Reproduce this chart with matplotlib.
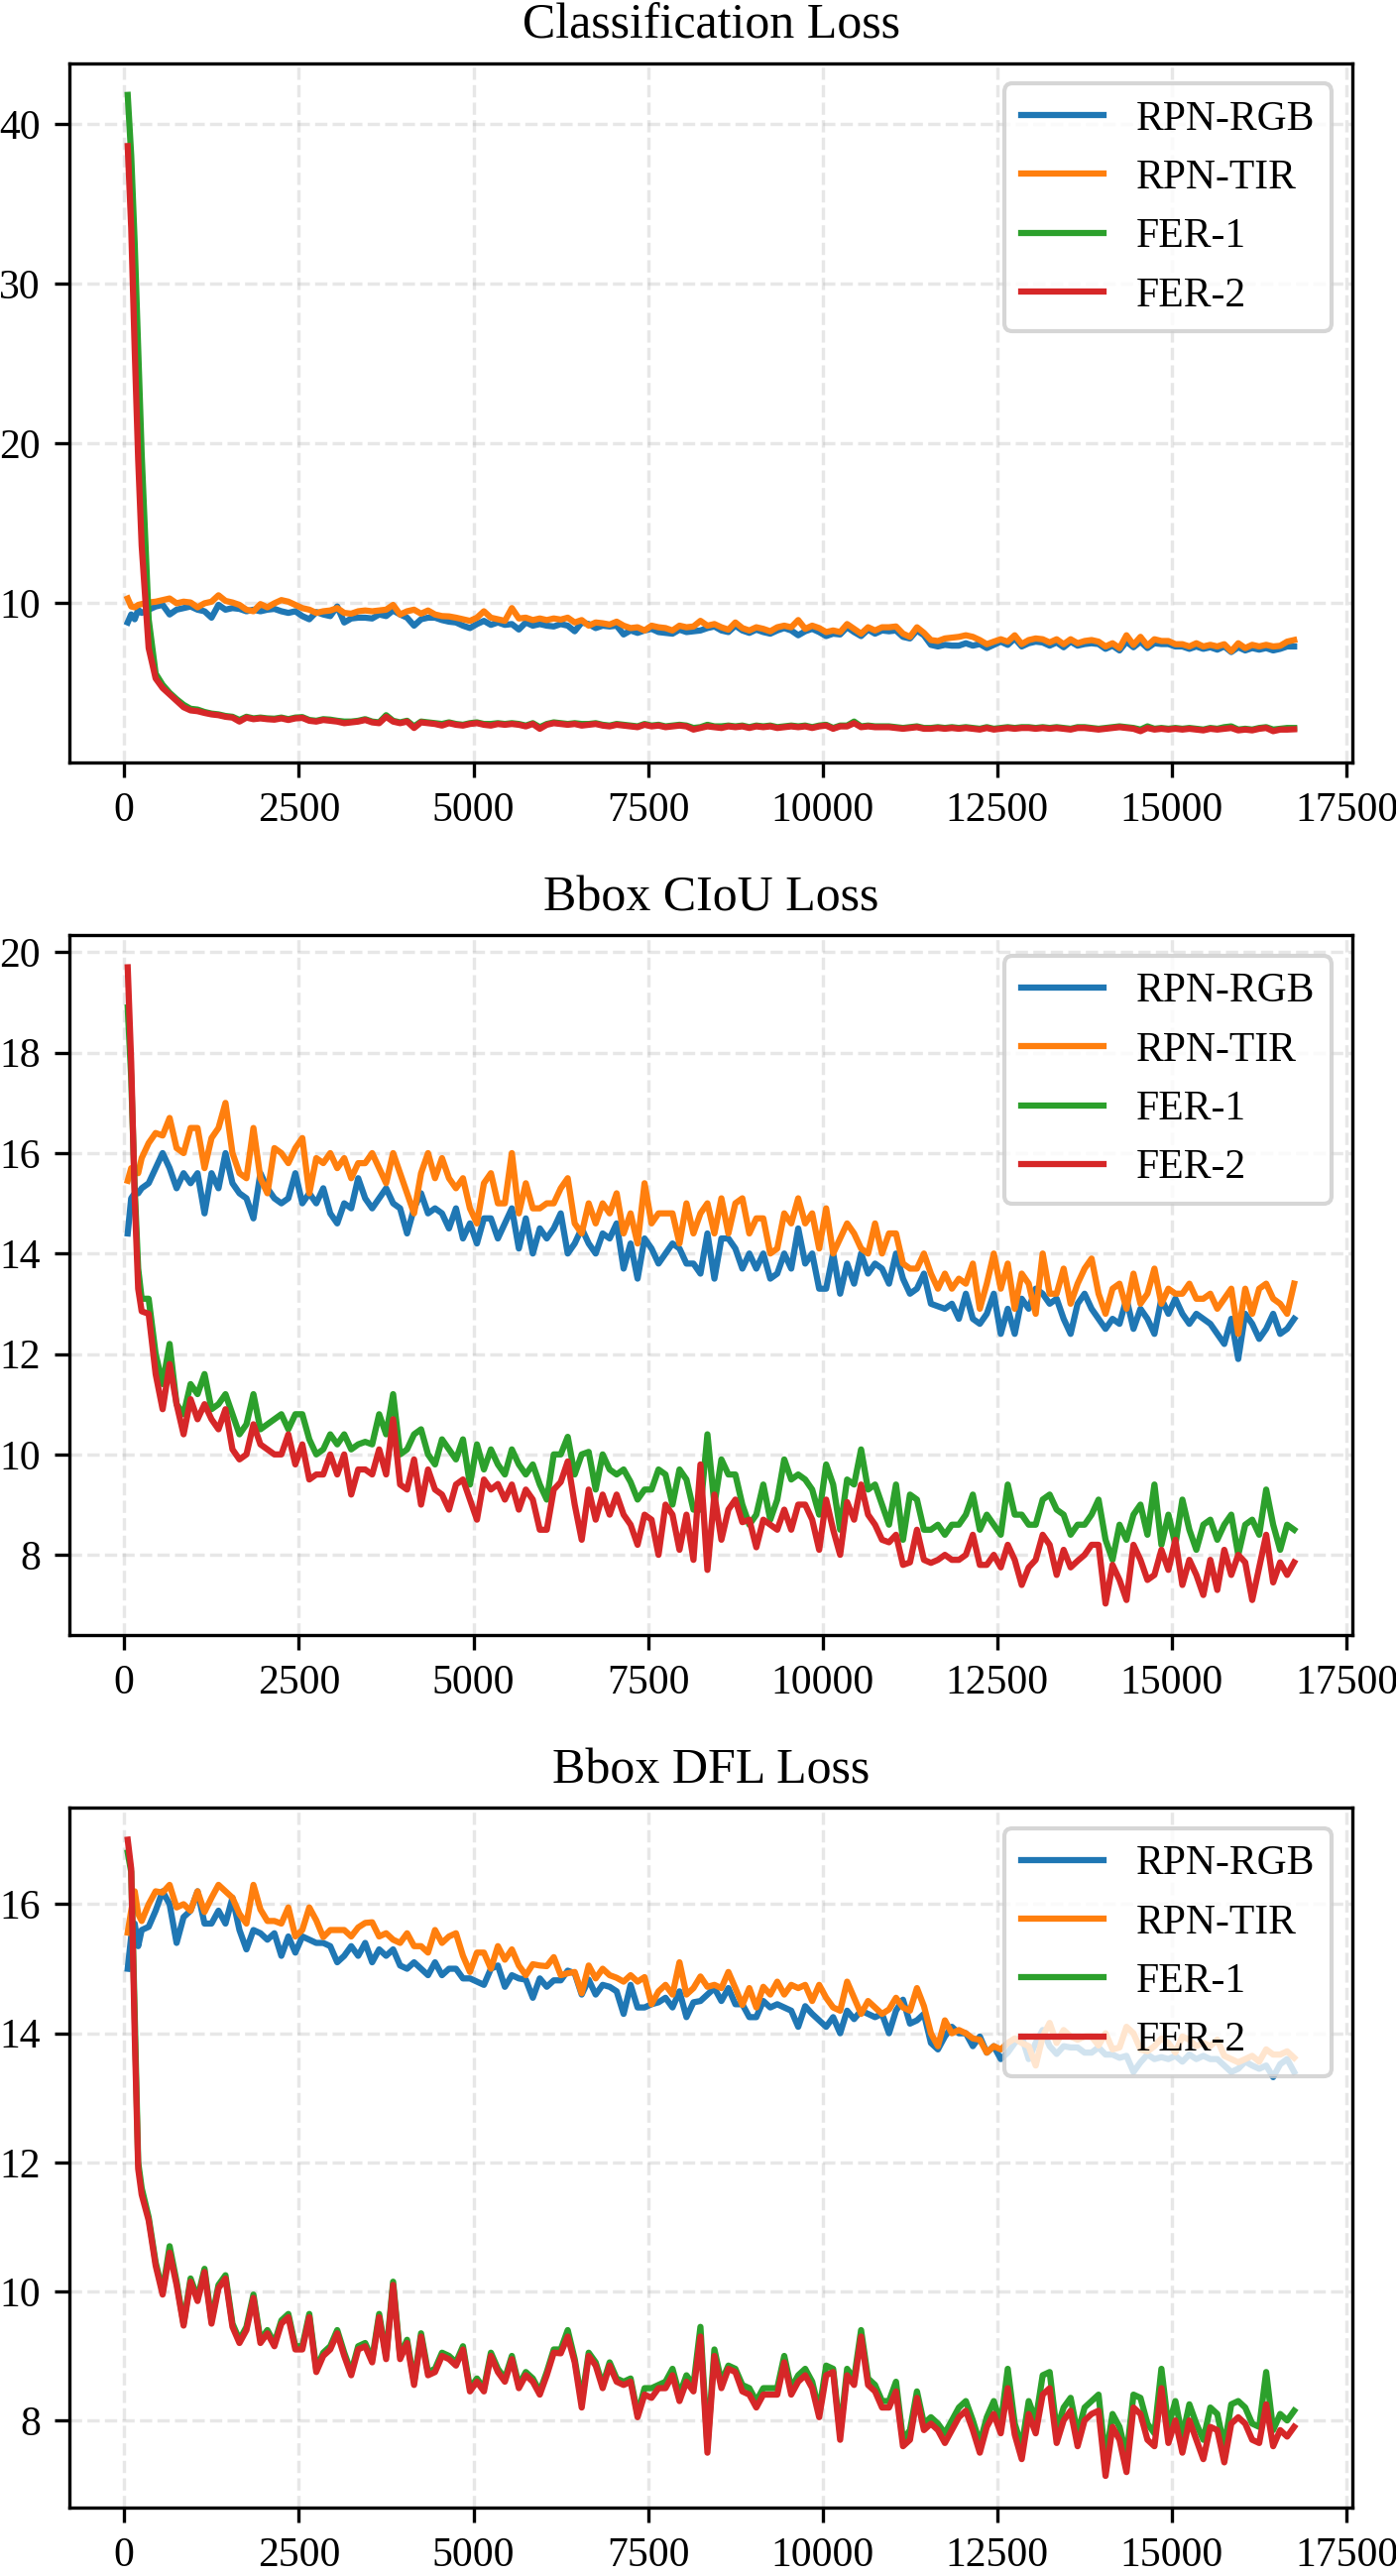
import numpy as np
import matplotlib
matplotlib.use("Agg")
import matplotlib.pyplot as plt

plt.rcParams['font.family'] = ['Liberation Serif', 'DejaVu Serif']

# iteration axis: a few early samples, then every 100 iterations
iters = np.concatenate([[50, 100, 150, 200], np.arange(250, 16751, 100)])

titles = ["Classification Loss", "Bbox CIoU Loss", "Bbox DFL Loss"]
labels = ["RPN-RGB", "RPN-TIR", "FER-1", "FER-2"]

# ---------------- Classification loss ----------------
cls_rgb = [8.8, 9.3, 9.0, 9.6, 9.4, 9.6, 9.8, 9.9, 9.3, 9.6, 9.7, 9.8,
           9.6, 9.5, 9.1, 9.9, 9.6, 9.7, 9.65, 9.5, 9.6, 9.5,
           9.6, 9.65, 9.5, 9.4, 9.5, 9.2, 9.0, 9.45, 9.3, 9.2,
           9.8, 8.8, 9.05, 9.1, 9.1, 9.05, 9.3, 9.2, 9.55, 9.3,
           9.1, 8.6, 9.0, 9.1, 9.1, 8.95, 8.85, 8.8, 8.6, 8.45,
           8.7, 8.9, 8.65, 8.8, 8.65, 8.7, 8.36, 8.8, 8.6, 8.7,
           8.6, 8.55, 8.7, 8.6, 8.25, 8.8, 8.7, 8.45, 8.6, 8.55,
           8.6, 8.05, 8.3, 8.15, 8.3, 8.4, 8.2, 8.15, 8.1, 8.35,
           8.2, 8.25, 8.3, 8.45, 8.55, 8.3, 8.2, 8.6, 8.3, 8.15,
           8.35, 8.2, 8.1, 8.3, 8.45, 8.3, 8.0, 8.25, 8.4, 8.2,
           7.95, 8.1, 8.05, 8.5, 8.2, 7.95, 8.35, 8.1, 8.3, 8.25,
           8.3, 7.9, 7.8, 8.3, 8.0, 7.4, 7.3, 7.4, 7.35, 7.35,
           7.5, 7.35, 7.45, 7.2, 7.4, 7.6, 7.4, 7.8, 7.3, 7.5,
           7.6, 7.55, 7.35, 7.55, 7.25, 7.6, 7.35, 7.45, 7.5, 7.45,
           7.15, 7.35, 7.05, 7.6, 7.25, 7.6, 7.2, 7.5, 7.45, 7.45,
           7.3, 7.3, 7.15, 7.3, 7.15, 7.25, 7.1, 7.3, 6.95, 7.25,
           7.05, 7.2, 7.1, 7.2, 7.05, 7.15, 7.3, 7.3]
cls_tir = [10.3, 9.8, 9.75, 9.9, 9.95, 10.05, 10.1, 10.2, 10.3, 10.0, 10.1, 10.05,
           9.75, 10.0, 10.1, 10.5, 10.15, 10.05, 9.9, 9.6, 9.5, 9.95,
           9.75, 10.0, 10.2, 10.1, 9.9, 9.7, 9.6, 9.4, 9.5, 9.55,
           9.7, 9.4, 9.35, 9.5, 9.55, 9.5, 9.55, 9.6, 9.9, 9.3,
           9.5, 9.6, 9.35, 9.55, 9.3, 9.2, 9.18, 9.1, 9.0, 8.9,
           9.1, 9.5, 9.1, 9.0, 8.9, 9.7, 9.05, 9.1, 8.95, 9.05,
           8.95, 9.05, 8.98, 9.1, 8.8, 8.95, 8.6, 8.8, 8.75, 8.67,
           8.85, 8.6, 8.45, 8.5, 8.3, 8.6, 8.5, 8.45, 8.3, 8.6,
           8.5, 8.55, 8.9, 8.6, 8.7, 8.5, 8.35, 8.8, 8.45, 8.3,
           8.5, 8.4, 8.25, 8.5, 8.6, 8.5, 8.95, 8.4, 8.6, 8.45,
           8.2, 8.3, 8.2, 8.7, 8.4, 8.1, 8.5, 8.3, 8.5, 8.5,
           8.55, 8.1, 7.9, 8.5, 8.15, 7.7, 7.64, 7.8, 7.85, 7.9,
           8.0, 7.9, 7.7, 7.44, 7.6, 7.75, 7.6, 8.0, 7.45, 7.7,
           7.8, 7.75, 7.55, 7.75, 7.44, 7.75, 7.5, 7.64, 7.7, 7.6,
           7.3, 7.5, 7.2, 8.0, 7.4, 7.9, 7.35, 7.75, 7.64, 7.64,
           7.44, 7.44, 7.3, 7.5, 7.3, 7.4, 7.3, 7.44, 7.0, 7.5,
           7.2, 7.4, 7.3, 7.4, 7.3, 7.34, 7.6, 7.7]
cls_fer1 = [41.8, 38.0, 32.5, 25.8, 19.3, 9.0, 5.6, 4.9, 4.4, 4.0, 3.65, 3.4,
            3.35, 3.2, 3.1, 3.05, 2.95, 2.9, 2.7, 2.9, 2.8, 2.85,
            2.8, 2.78, 2.85, 2.75, 2.85, 2.88, 2.7, 2.65, 2.75, 2.72,
            2.65, 2.6, 2.6, 2.65, 2.75, 2.6, 2.55, 3.0, 2.65, 2.55,
            2.65, 2.3, 2.6, 2.55, 2.5, 2.45, 2.55, 2.45, 2.4, 2.5,
            2.55, 2.45, 2.45, 2.5, 2.45, 2.5, 2.45, 2.35, 2.5, 2.25,
            2.45, 2.55, 2.5, 2.45, 2.5, 2.45, 2.45, 2.5, 2.4, 2.35,
            2.45, 2.4, 2.35, 2.3, 2.45, 2.35, 2.4, 2.3, 2.35, 2.4,
            2.35, 2.2, 2.25, 2.4, 2.3, 2.3, 2.35, 2.3, 2.35, 2.25,
            2.35, 2.3, 2.35, 2.25, 2.3, 2.35, 2.3, 2.35, 2.25, 2.35,
            2.4, 2.2, 2.35, 2.35, 2.6, 2.3, 2.35, 2.3, 2.3, 2.3,
            2.25, 2.2, 2.25, 2.3, 2.2, 2.2, 2.25, 2.2, 2.25, 2.2,
            2.25, 2.2, 2.15, 2.25, 2.15, 2.2, 2.25, 2.2, 2.25, 2.25,
            2.2, 2.25, 2.2, 2.25, 2.2, 2.15, 2.25, 2.25, 2.2, 2.15,
            2.2, 2.25, 2.3, 2.25, 2.2, 2.1, 2.3, 2.15, 2.2, 2.15,
            2.2, 2.15, 2.2, 2.15, 2.1, 2.2, 2.15, 2.25, 2.3, 2.1,
            2.15, 2.1, 2.2, 2.25, 2.1, 2.15, 2.2, 2.2]
cls_fer2 = [38.6, 33.5, 25.9, 19.0, 13.6, 7.2, 5.3, 4.7, 4.3, 3.9, 3.5, 3.3,
            3.25, 3.14, 3.05, 3.0, 2.9, 2.85, 2.6, 2.85, 2.75, 2.8,
            2.75, 2.72, 2.8, 2.7, 2.8, 2.83, 2.65, 2.6, 2.7, 2.65,
            2.6, 2.5, 2.55, 2.6, 2.7, 2.55, 2.5, 2.9, 2.6, 2.5,
            2.6, 2.2, 2.55, 2.5, 2.45, 2.35, 2.5, 2.4, 2.35, 2.45,
            2.5, 2.4, 2.35, 2.45, 2.4, 2.45, 2.4, 2.3, 2.45, 2.15,
            2.4, 2.5, 2.45, 2.4, 2.45, 2.35, 2.4, 2.45, 2.35, 2.3,
            2.4, 2.35, 2.3, 2.25, 2.4, 2.3, 2.35, 2.25, 2.3, 2.35,
            2.3, 2.1, 2.2, 2.3, 2.25, 2.2, 2.3, 2.25, 2.3, 2.2,
            2.3, 2.25, 2.3, 2.2, 2.25, 2.3, 2.25, 2.3, 2.2, 2.3,
            2.35, 2.15, 2.3, 2.3, 2.5, 2.25, 2.3, 2.25, 2.25, 2.25,
            2.2, 2.15, 2.2, 2.25, 2.15, 2.15, 2.2, 2.15, 2.2, 2.15,
            2.2, 2.15, 2.1, 2.2, 2.1, 2.15, 2.2, 2.15, 2.2, 2.2,
            2.15, 2.2, 2.15, 2.2, 2.15, 2.1, 2.2, 2.2, 2.15, 2.1,
            2.15, 2.2, 2.25, 2.2, 2.15, 2.0, 2.2, 2.1, 2.15, 2.1,
            2.15, 2.1, 2.15, 2.1, 2.05, 2.15, 2.1, 2.15, 2.2, 2.05,
            2.1, 2.05, 2.15, 2.2, 2.0, 2.1, 2.1, 2.12]

# ---------------- Bbox CIoU loss ----------------
ciou_rgb = [14.4, 15.1, 15.2, 15.2, 15.3, 15.4, 15.7, 16.0, 15.7, 15.3, 15.6, 15.4,
            15.6, 14.8, 15.6, 15.3, 16.0, 15.4, 15.2, 15.1, 14.7, 15.6,
            15.3, 15.1, 15.0, 15.1, 15.6, 15.0, 15.2, 15.0, 15.3, 14.8,
            14.6, 15.0, 14.9, 15.5, 15.1, 14.9, 15.1, 15.3, 15.0, 14.9,
            14.4, 14.9, 15.2, 14.8, 14.9, 14.8, 14.5, 14.9, 14.3, 14.6,
            14.2, 14.7, 14.7, 14.3, 14.6, 14.9, 14.1, 14.7, 14.0, 14.5,
            14.3, 14.5, 14.8, 14.0, 14.2, 14.5, 14.2, 14.0, 14.4, 14.3,
            14.6, 13.7, 14.2, 13.5, 14.3, 14.1, 13.8, 14.0, 14.2, 14.1,
            13.8, 13.8, 13.6, 14.4, 13.5, 14.3, 14.3, 14.1, 13.7, 14.0,
            13.7, 14.0, 13.5, 13.6, 14.0, 13.7, 14.5, 13.8, 14.0, 13.3,
            13.3, 14.0, 13.2, 13.8, 13.4, 14.0, 13.6, 13.8, 13.7, 13.4,
            14.0, 13.5, 13.2, 13.3, 13.6, 13.0, 12.95, 12.9, 13.0, 12.7,
            13.2, 12.7, 12.6, 12.8, 13.2, 12.4, 12.9, 12.4, 13.1, 12.9,
            13.3, 13.2, 13.0, 13.1, 12.7, 12.4, 13.0, 13.2, 12.9, 12.7,
            12.5, 12.7, 12.6, 13.1, 12.5, 12.9, 12.7, 12.4, 13.1, 12.8,
            13.1, 12.8, 12.6, 12.8, 12.7, 12.6, 12.4, 12.2, 12.7, 11.9,
            12.8, 12.6, 12.3, 12.5, 12.8, 12.4, 12.5, 12.7]
ciou_tir = [15.45, 15.7, 15.7, 15.6, 15.9, 16.2, 16.4, 16.35, 16.7, 16.1, 16.0, 16.5,
            16.5, 15.7, 16.3, 16.5, 17.0, 16.0, 15.6, 15.5, 16.5, 15.5,
            15.2, 16.1, 16.0, 15.8, 16.1, 16.3, 15.2, 15.9, 15.8, 16.0,
            15.7, 15.9, 15.5, 15.8, 15.8, 16.0, 15.7, 15.4, 16.0, 15.6,
            15.2, 14.8, 15.6, 16.0, 15.5, 15.9, 15.5, 15.3, 15.5, 14.9,
            14.6, 15.4, 15.6, 15.0, 15.0, 16.0, 14.8, 15.4, 14.9, 14.9,
            15.0, 15.0, 15.3, 15.5, 14.6, 14.4, 15.0, 14.6, 15.0, 14.8,
            15.2, 14.4, 14.8, 14.2, 15.4, 14.6, 14.8, 14.8, 14.8, 14.2,
            15.0, 14.4, 14.8, 15.0, 14.4, 15.1, 14.4, 15.0, 15.1, 14.4,
            14.7, 14.7, 14.0, 14.1, 14.8, 14.6, 15.1, 14.6, 14.8, 14.1,
            14.9, 14.0, 14.3, 14.6, 14.4, 14.1, 14.0, 14.6, 14.0, 14.4,
            14.4, 13.8, 13.7, 13.7, 14.0, 13.6, 13.3, 13.6, 13.3, 13.5,
            13.4, 13.8, 12.9, 13.4, 14.0, 13.3, 13.8, 12.9, 13.6, 13.4,
            12.8, 14.0, 13.2, 13.2, 13.7, 13.0, 13.4, 13.7, 13.9, 13.2,
            12.8, 13.3, 13.4, 12.9, 13.6, 13.0, 13.2, 13.7, 13.0, 13.3,
            13.2, 13.2, 13.4, 13.1, 13.1, 13.2, 12.9, 13.1, 13.3, 12.4,
            13.3, 12.8, 13.3, 13.4, 13.1, 13.0, 12.8, 13.4]
ciou_fer1 = [18.9, 17.5, 15.3, 13.7, 13.1, 13.1, 12.0, 11.4, 12.2, 11.0, 10.8, 11.4,
             11.2, 11.6, 10.9, 11.0, 11.2, 10.8, 10.4, 10.6, 11.2, 10.5,
             10.6, 10.7, 10.8, 10.5, 10.8, 10.8, 10.3, 10.0, 10.1, 10.4,
             10.2, 10.4, 10.1, 10.2, 10.25, 10.2, 10.8, 10.4, 11.2, 10.0,
             10.1, 10.4, 10.5, 10.0, 9.8, 10.3, 10.1, 9.9, 10.3, 9.4,
             10.2, 9.7, 10.1, 9.8, 9.6, 10.1, 9.8, 9.6, 9.8, 9.4,
             9.1, 10.0, 10.0, 10.35, 9.6, 10.0, 10.05, 9.3, 10.0, 9.7,
             9.6, 9.7, 9.45, 9.1, 9.3, 9.3, 9.7, 9.6, 9.0, 9.7,
             9.5, 8.9, 8.9, 10.4, 9.0, 9.9, 9.6, 9.6, 9.0, 8.6,
             8.8, 9.4, 8.7, 9.1, 9.9, 9.5, 9.6, 9.5, 9.3, 8.8,
             9.8, 9.4, 8.5, 9.5, 9.4, 10.1, 9.3, 9.4, 9.0, 8.6,
             9.4, 8.3, 9.2, 9.1, 8.5, 8.5, 8.6, 8.4, 8.6, 8.6,
             8.8, 9.2, 8.5, 8.8, 8.6, 8.4, 9.4, 8.8, 8.8, 8.6,
             8.6, 9.1, 9.2, 8.9, 8.8, 8.4, 8.6, 8.6, 8.8, 9.1,
             8.3, 7.9, 8.6, 8.3, 8.8, 9.0, 8.4, 9.4, 8.2, 8.8,
             8.2, 9.1, 8.5, 8.1, 8.6, 8.7, 8.3, 8.6, 8.8, 8.0,
             8.6, 8.7, 8.4, 9.3, 8.6, 8.1, 8.6, 8.5]
ciou_fer2 = [19.7, 17.8, 15.1, 13.3, 12.85, 12.8, 11.6, 10.9, 11.8, 11.0, 10.4, 11.1,
             10.7, 11.0, 10.7, 10.5, 10.9, 10.1, 9.9, 10.0, 10.6, 10.2,
             10.1, 10.0, 10.0, 10.4, 9.8, 10.2, 9.5, 9.6, 9.6, 10.0,
             9.6, 10.0, 9.2, 9.7, 9.7, 9.6, 10.1, 9.6, 10.7, 9.4,
             9.3, 9.9, 9.0, 9.7, 9.3, 9.2, 8.9, 9.4, 9.5, 9.1,
             8.7, 9.5, 9.3, 9.41, 9.1, 9.4, 8.9, 9.3, 9.1, 8.5,
             8.5, 9.3, 9.45, 9.86, 9.0, 8.3, 9.3, 8.7, 9.2, 8.8,
             9.2, 8.8, 8.6, 8.2, 8.8, 8.7, 8.0, 9.0, 8.8, 8.1,
             8.8, 7.9, 9.8, 7.7, 9.2, 8.3, 8.9, 9.1, 8.65, 8.7,
             8.15, 8.7, 8.6, 8.5, 8.9, 8.5, 9.0, 9.0, 8.7, 8.1,
             9.1, 8.5, 8.0, 9.05, 8.7, 9.4, 8.8, 8.6, 8.3, 8.25,
             8.4, 7.8, 7.85, 8.5, 7.9, 7.84, 7.9, 8.0, 7.9, 7.9,
             8.0, 8.4, 7.8, 7.8, 8.0, 7.75, 8.2, 7.9, 7.4, 7.75,
             7.9, 8.4, 8.2, 7.6, 8.1, 7.75, 7.88, 8.0, 8.2, 8.2,
             7.03, 7.8, 7.5, 7.1, 8.2, 7.9, 7.5, 7.6, 8.1, 7.7,
             8.3, 7.4, 7.9, 7.6, 7.2, 7.9, 7.3, 8.1, 7.6, 8.0,
             7.85, 7.1, 7.75, 8.4, 7.45, 7.85, 7.6, 7.85]

# ---------------- Bbox DFL loss ----------------
dfl_rgb = [15.0, 15.5, 15.7, 15.35, 15.6, 15.65, 15.9, 16.2, 16.0, 15.4, 15.8, 15.9,
           16.2, 15.7, 15.7, 15.9, 15.7, 16.1, 15.6, 15.3, 15.6, 15.55,
           15.45, 15.55, 15.2, 15.5, 15.25, 15.5, 15.45, 15.4, 15.4, 15.35,
           15.1, 15.2, 15.35, 15.2, 15.4, 15.1, 15.3, 15.2, 15.3, 15.05,
           15.0, 15.1, 15.0, 14.9, 15.1, 14.9, 15.0, 15.0, 14.85, 14.85,
           14.8, 14.75, 15.0, 15.05, 14.72, 14.9, 14.85, 14.83, 14.55, 14.85,
           14.72, 14.82, 14.82, 14.97, 14.93, 14.6, 14.83, 14.6, 14.75, 14.72,
           14.65, 14.3, 14.75, 14.4, 14.4, 14.45, 14.48, 14.55, 14.4, 14.65,
           14.25, 14.48, 14.5, 14.6, 14.7, 14.5, 14.7, 14.45, 14.45, 14.25,
           14.25, 14.5, 14.4, 14.45, 14.4, 14.35, 14.1, 14.42, 14.3, 14.2,
           14.1, 14.25, 14.0, 14.35, 14.22, 14.35, 14.3, 14.25, 14.3, 14.0,
           14.35, 14.52, 14.15, 14.2, 14.3, 13.85, 13.75, 13.95, 14.1, 14.0,
           14.0, 13.8, 13.95, 13.7, 13.8, 13.6, 13.7, 13.85, 13.95, 13.6,
           13.85, 14.05, 13.8, 13.68, 13.8, 13.78, 13.78, 13.7, 13.7, 13.78,
           13.67, 13.67, 13.62, 13.65, 13.4, 13.55, 13.67, 13.6, 13.63, 13.6,
           13.65, 13.56, 13.67, 13.6, 13.65, 13.6, 13.6, 13.5, 13.4, 13.45,
           13.56, 13.5, 13.45, 13.5, 13.32, 13.52, 13.6, 13.4]
dfl_tir = [15.56, 15.9, 16.2, 15.85, 15.74, 16.0, 16.2, 16.18, 16.3, 15.95, 16.0, 15.9,
           16.2, 15.88, 16.1, 16.3, 16.2, 16.1, 15.85, 15.7, 16.3, 15.92,
           15.74, 15.74, 15.7, 15.95, 15.5, 15.6, 15.95, 15.75, 15.49, 15.6,
           15.6, 15.6, 15.5, 15.64, 15.71, 15.72, 15.5, 15.55, 15.45, 15.4,
           15.55, 15.35, 15.35, 15.25, 15.6, 15.4, 15.5, 15.55, 15.2, 14.95,
           15.25, 15.25, 15.0, 15.35, 15.14, 15.3, 15.05, 14.9, 15.07, 15.05,
           15.04, 15.18, 14.9, 14.93, 14.95, 14.62, 15.05, 14.85, 15.0, 14.9,
           14.86, 14.8, 14.9, 14.8, 14.87, 14.45, 14.65, 14.75, 14.6, 15.1,
           14.6, 14.7, 14.88, 14.72, 14.75, 14.7, 14.95, 14.7, 14.44, 14.7,
           14.4, 14.72, 14.6, 14.8, 14.6, 14.75, 14.7, 14.75, 14.5, 14.75,
           14.55, 14.4, 14.35, 14.8, 14.55, 14.3, 14.5, 14.4, 14.3, 14.37,
           14.55, 14.4, 14.35, 14.7, 14.42, 14.0, 13.8, 14.2, 14.0, 14.05,
           14.0, 13.92, 13.9, 13.7, 13.8, 13.75, 13.85, 13.92, 13.85, 13.8,
           13.5, 13.95, 14.16, 13.85, 14.05, 13.95, 13.9, 13.95, 13.95, 13.81,
           14.0, 13.75, 13.78, 14.1, 14.0, 13.75, 13.72, 13.8, 13.92, 13.85,
           13.7, 13.95, 13.9, 13.8, 13.85, 13.8, 13.9, 13.65, 13.6, 13.55,
           13.6, 13.65, 13.56, 13.75, 13.67, 13.67, 13.72, 13.62]
dfl_fer1 = [16.8, 16.5, 14.3, 12.0, 11.6, 11.15, 10.45, 10.0, 10.7, 10.15, 9.5, 10.2,
            9.9, 10.35, 9.55, 10.1, 10.25, 9.5, 9.25, 9.45, 9.95, 9.25,
            9.4, 9.2, 9.55, 9.65, 9.15, 9.15, 9.65, 8.8, 9.05, 9.15,
            9.4, 9.05, 8.75, 9.15, 9.2, 8.95, 9.65, 9.0, 10.15, 9.0,
            9.25, 8.6, 9.35, 8.75, 8.8, 9.05, 9.0, 8.9, 9.15, 8.5,
            8.65, 8.5, 9.05, 8.8, 8.65, 9.0, 8.55, 8.75, 8.65, 8.45,
            8.75, 9.1, 9.1, 9.4, 8.95, 8.3, 9.05, 8.9, 8.55, 8.9,
            8.65, 8.6, 8.65, 8.1, 8.5, 8.5, 8.55, 8.6, 8.8, 8.4,
            8.7, 8.55, 9.45, 7.6, 9.1, 8.6, 8.85, 8.8, 8.55, 8.5,
            8.3, 8.5, 8.5, 8.5, 9.0, 8.5, 8.7, 8.8, 8.6, 8.15,
            8.85, 8.8, 7.8, 8.8, 8.65, 9.4, 8.65, 8.55, 8.3, 8.3,
            8.6, 7.7, 7.85, 8.45, 7.95, 8.05, 7.95, 7.8, 8.0, 8.2,
            8.3, 8.0, 7.65, 8.05, 8.3, 7.95, 8.8, 7.95, 7.6, 8.3,
            8.0, 8.7, 8.75, 7.85, 8.2, 8.35, 7.8, 8.2, 8.3, 8.4,
            7.4, 8.1, 7.9, 7.45, 8.4, 8.35, 7.95, 7.8, 8.8, 7.9,
            8.3, 7.75, 8.25, 7.95, 7.7, 8.2, 8.1, 7.6, 8.25, 8.3,
            8.2, 7.95, 7.9, 8.75, 7.85, 8.1, 8.0, 8.15]
dfl_fer2 = [17.0, 16.55, 14.0, 11.9, 11.5, 11.1, 10.4, 9.95, 10.6, 10.1, 9.47, 10.15,
            9.85, 10.3, 9.5, 10.05, 10.2, 9.45, 9.2, 9.4, 9.9, 9.2,
            9.35, 9.15, 9.5, 9.6, 9.1, 9.1, 9.6, 8.75, 9.0, 9.1,
            9.35, 9.0, 8.7, 9.1, 9.15, 8.9, 9.6, 8.95, 10.1, 8.95,
            9.2, 8.55, 9.3, 8.7, 8.75, 9.0, 8.95, 8.85, 9.1, 8.45,
            8.6, 8.45, 9.0, 8.75, 8.6, 8.95, 8.5, 8.7, 8.6, 8.4,
            8.7, 9.05, 9.04, 9.3, 8.9, 8.2, 9.0, 8.85, 8.5, 8.85,
            8.6, 8.55, 8.6, 8.05, 8.4, 8.35, 8.5, 8.5, 8.7, 8.3,
            8.6, 8.45, 9.3, 7.5, 9.0, 8.5, 8.8, 8.75, 8.45, 8.4,
            8.2, 8.4, 8.4, 8.4, 8.9, 8.4, 8.6, 8.7, 8.5, 8.05,
            8.7, 8.75, 7.7, 8.7, 8.55, 9.3, 8.55, 8.45, 8.2, 8.2,
            8.45, 7.6, 7.7, 8.35, 7.85, 7.95, 7.85, 7.65, 7.85, 8.05,
            8.15, 7.85, 7.5, 7.9, 8.1, 7.8, 8.5, 7.78, 7.4, 8.1,
            7.8, 8.4, 8.5, 7.65, 8.0, 8.15, 7.6, 8.0, 8.1, 8.15,
            7.14, 7.9, 7.7, 7.2, 8.2, 8.1, 7.7, 7.6, 8.5, 7.65,
            8.0, 7.5, 8.0, 7.7, 7.4, 7.9, 7.85, 7.35, 7.95, 8.05,
            7.95, 7.7, 7.65, 8.25, 7.6, 7.85, 7.75, 7.9]

panels = [
    [cls_rgb, cls_tir, cls_fer1, cls_fer2],
    [ciou_rgb, ciou_tir, ciou_fer1, ciou_fer2],
    [dfl_rgb, dfl_tir, dfl_fer1, dfl_fer2],
]
colors = ["#1f77b4", "#ff7f0e", "#2ca02c", "#d62728"]

for p, group in enumerate(panels):
    for k, s in enumerate(group):
        assert len(s) == len(iters), (p, k, len(s), len(iters))

fig = plt.figure(figsize=(1408 / 300, 2598 / 300), dpi=300)
fig.subplots_adjust(left=0.0497, right=0.9688, top=0.9755, bottom=0.0265, hspace=0.2465)
axes = fig.subplots(3, 1)

for ax, title, group in zip(axes, titles, panels):
    for s, lab, c in zip(group, labels, colors):
        ax.plot(iters, s, color=c, linewidth=1.5, label=lab)
    ax.set_title(title, fontsize=12)
    ax.grid(True, linestyle='--', alpha=0.3)
    ax.tick_params(labelsize=10)
    ax.set_xticks([0, 2500, 5000, 7500, 10000, 12500, 15000, 17500])
    ax.legend(loc='upper right', fontsize=10)

fig.savefig("out.png", dpi=300)
